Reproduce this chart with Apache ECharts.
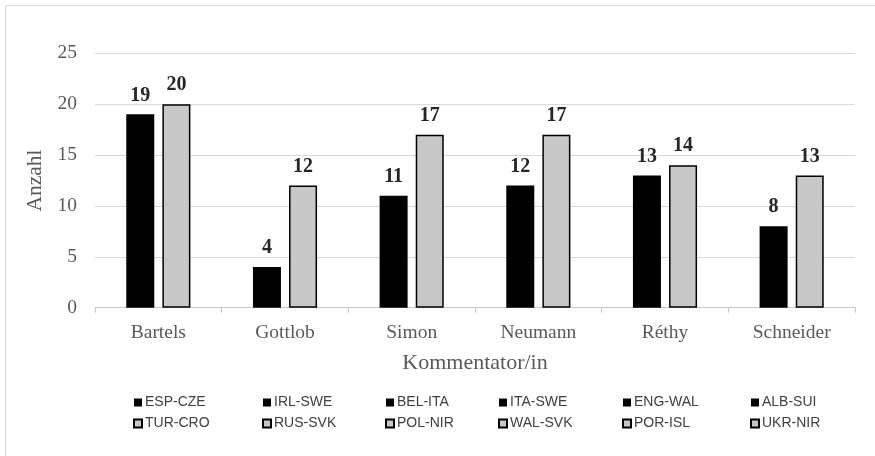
<!DOCTYPE html>
<html>
<head>
<meta charset="utf-8">
<script src="https://cdn.jsdelivr.net/npm/echarts@6/dist/echarts.min.js"></script>
<style>
  html, body { margin: 0; padding: 0; background: #fff; }
  #chart { width: 875px; height: 456px; }
</style>
</head>
<body>
<div id="chart"></div>
<script>
// Commentators on the category axis
var commentators = ['Bartels', 'Gottlob', 'Simon', 'Neumann', 'Réthy', 'Schneider'];

// First match per commentator (black bars) and its count
var firstMatches = ['ESP-CZE', 'IRL-SWE', 'BEL-ITA', 'ITA-SWE', 'ENG-WAL', 'ALB-SUI'];
var firstCounts = [19, 4, 11, 12, 13, 8];

// Second match per commentator (grey bars) and its count
var secondMatches = ['TUR-CRO', 'RUS-SVK', 'POL-NIR', 'WAL-SVK', 'POR-ISL', 'UKR-NIR'];
var secondCounts = [20, 12, 17, 17, 14, 13];

// Y axis ticks
var yMin = 0, yMax = 25, yStep = 5;

var serif = '"Liberation Serif", "Times New Roman", serif';
var sans = '"Liberation Sans", Arial, sans-serif';

// Each match is its own series holding a value only at its commentator;
// stacking keeps all black bars in one slot and all grey bars in the other.
function matchSeries(name, idx, value, stackName, fill, border, bw) {
  var data = commentators.map(function (c, i) { return i === idx ? value : '-'; });
  return {
    name: name,
    type: 'bar',
    stack: stackName,
    data: data,
    barWidth: 28,
    barGap: '29%',
    itemStyle: { color: fill, borderColor: border, borderWidth: bw },
    label: {
      show: true,
      position: 'top',
      distance: 9,
      fontFamily: serif,
      fontWeight: 'bold',
      fontSize: 20,
      color: '#262626'
    },
    emphasis: { disabled: true }
  };
}

var series = [];
firstMatches.forEach(function (m, i) {
  series.push(matchSeries(m, i, firstCounts[i], 'first', '#000000', '#000000', 0));
});
secondMatches.forEach(function (m, i) {
  series.push(matchSeries(m, i, secondCounts[i], 'second', '#c8c8c8', '#000000', 1.5));
});

// Legend: one column per commentator, black match above grey match
var legendLefts = [133, 262, 385, 498, 622, 750];
var legends = legendLefts.map(function (x, i) {
  return {
    orient: 'vertical',
    left: x,
    top: 395,
    itemWidth: 8,
    itemHeight: 8,
    itemGap: 6,
    padding: 0,
    icon: 'rect',
    selectedMode: false,
    data: [firstMatches[i], secondMatches[i]],
    textStyle: { fontFamily: sans, fontSize: 14, color: '#404040', lineHeight: 15, padding: [0, 0, 0, -2] }
  };
});

var chart = echarts.init(document.getElementById('chart'), null, { renderer: 'canvas' });
chart.setOption({
  animation: false,
  backgroundColor: '#ffffff',
  graphic: [{
    type: 'rect',
    shape: { x: 5.5, y: 5.5, width: 900, height: 500 },
    style: { fill: 'none', stroke: '#d9d9d9', lineWidth: 1 },
    silent: true
  }],
  legend: legends,
  grid: { left: 95, right: 20, top: 53.3, bottom: 148.3, containLabel: false },
  xAxis: {
    type: 'category',
    data: commentators,
    name: 'Kommentator/in',
    nameLocation: 'middle',
    nameGap: 45,
    nameTextStyle: { fontFamily: serif, fontSize: 22, color: '#595959' },
    axisLine: { lineStyle: { color: '#c8c8c8', width: 1 } },
    axisTick: { show: true, length: 5, lineStyle: { color: '#c8c8c8' } },
    axisLabel: { fontFamily: serif, fontSize: 19.5, color: '#595959', margin: 15 }
  },
  yAxis: {
    type: 'value',
    min: yMin,
    max: yMax,
    interval: yStep,
    name: 'Anzahl',
    nameLocation: 'middle',
    nameGap: 48,
    nameTextStyle: { fontFamily: serif, fontSize: 21.5, color: '#595959' },
    axisLine: { show: false },
    axisTick: { show: false },
    axisLabel: { fontFamily: serif, fontSize: 19.5, color: '#595959', margin: 18 },
    splitLine: { lineStyle: { color: '#d9d9d9', width: 1 } }
  },
  series: series
});
</script>
</body>
</html>
